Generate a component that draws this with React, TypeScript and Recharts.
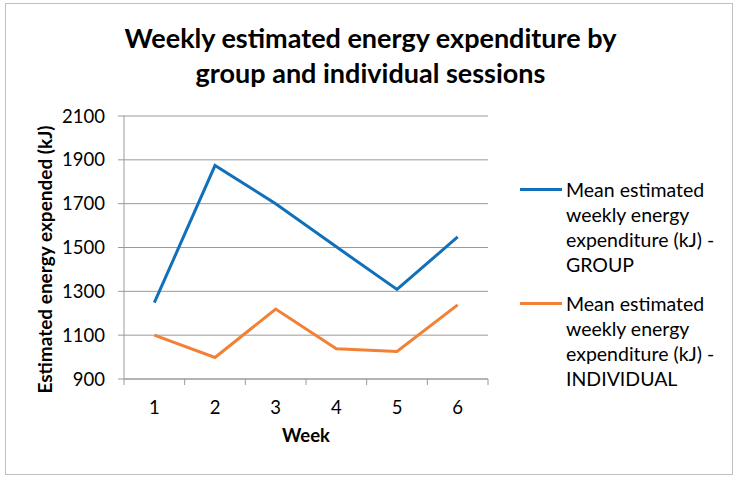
import React from 'react';
import { LineChart, Line, XAxis, YAxis, CartesianGrid, Label } from 'recharts';

const weeks = [1, 2, 3, 4, 5, 6];
const groupValues = [1248, 1874, 1700, 1503, 1309, 1548];
const individualValues = [1100, 998, 1219, 1038, 1026, 1238];
const yTicks = [900, 1100, 1300, 1500, 1700, 1900, 2100];
const xTicks = [0.5, 1, 1.5, 2, 2.5, 3, 3.5, 4, 4.5, 5, 5.5, 6, 6.5];
const seriesNames = [
  'Mean estimated weekly energy expenditure (kJ) - GROUP',
  'Mean estimated weekly energy expenditure (kJ) - INDIVIDUAL',
];
const titleLines = ['Weekly estimated energy expenditure by', 'group and individual sessions'];
const legendLines = [
  ['Mean estimated', 'weekly energy', 'expenditure (kJ) -', 'GROUP'],
  ['Mean estimated', 'weekly energy', 'expenditure (kJ) -', 'INDIVIDUAL'],
];

const BLUE = '#1170BA';
const ORANGE = '#F28035';
const GRID = '#9a9a9a';
const FONT = 'Lato, "Open Sans", sans-serif';

const data = weeks.map((w, i) => ({
  week: w,
  group: groupValues[i],
  individual: individualValues[i],
}));

const XTick = (props: any) => {
  const { x, y, payload } = props;
  const v = payload.value as number;
  if (Number.isInteger(v)) {
    return (
      <text x={x} y={y + 28} textAnchor="middle" dominantBaseline="central" fill="#000" fontSize={18.5} fontFamily={FONT}>
        {v}
      </text>
    );
  }
  return <line x1={x} x2={x} y1={y} y2={y + 6} stroke={GRID} strokeWidth={1} />;
};

export default function App() {
  return (
    <div style={{ position: 'absolute', left: 0, top: 0, width: 741, height: 482, background: '#fff', fontFamily: FONT }}>
      <div
        style={{
          position: 'absolute',
          left: 5,
          top: 3,
          width: 728,
          height: 472,
          border: '1px solid #bfbfbf',
          boxSizing: 'border-box',
        }}
      />
      <div
        style={{
          position: 'absolute',
          left: 0,
          top: 20,
          width: 741,
          textAlign: 'center',
          fontWeight: 700,
          fontSize: 27,
          lineHeight: '35px',
          color: '#000',
        }}
      >
        <div>{titleLines[0]}</div>
        <div>{titleLines[1]}</div>
      </div>
      <div style={{ position: 'absolute', left: 0, top: 0 }}>
        <LineChart width={741} height={482} data={data} margin={{ top: 116, right: 253, bottom: 43, left: 0 }}>
          <CartesianGrid vertical={false} stroke={GRID} strokeWidth={1} />
          <XAxis
            dataKey="week"
            type="number"
            domain={[0.5, 6.5]}
            ticks={xTicks}
            interval={0}
            height={60}
            axisLine={{ stroke: GRID }}
            tickLine={false}
            tickSize={0}
            tickMargin={0}
            tick={<XTick />}
          >
            <Label value="Week" position="insideTop" offset={50} fill="#000" fontSize={18.5} fontWeight={700} fontFamily={FONT} />
          </XAxis>
          <YAxis
            domain={[900, 2100]}
            ticks={yTicks}
            interval={0}
            width={124}
            axisLine={{ stroke: GRID }}
            tickLine={{ stroke: GRID }}
            tickSize={6}
            tickMargin={13}
            tick={{ fill: '#000', fontSize: 18.5, fontFamily: FONT }}
          >
            <Label
              value="Estimated energy expended (kJ)"
              angle={-90}
              position="center"
              dx={-17}
              dy={12}
              fill="#000"
              fontSize={19}
              fontWeight={700}
              fontFamily={FONT}
            />
          </YAxis>
          <Line
            type="linear"
            dataKey="group"
            name={seriesNames[0]}
            stroke={BLUE}
            strokeWidth={3}
            dot={false}
            isAnimationActive={false}
          />
          <Line
            type="linear"
            dataKey="individual"
            name={seriesNames[1]}
            stroke={ORANGE}
            strokeWidth={3}
            dot={false}
            isAnimationActive={false}
          />
        </LineChart>
      </div>
      {legendLines.map((lines, i) => (
        <div
          key={i}
          style={{ position: 'absolute', left: 520, top: 177 + i * 114, display: 'flex', alignItems: 'flex-start' }}
        >
          <svg width={44} height={25} style={{ flex: 'none' }}>
            <line x1={0} x2={42} y1={12.5} y2={12.5} stroke={i === 0 ? BLUE : ORANGE} strokeWidth={3} />
          </svg>
          <div style={{ fontSize: 19.5, lineHeight: '25px', color: '#000', marginLeft: 2, whiteSpace: 'nowrap' }}>
            {lines.map((l, j) => (
              <div key={j}>{l}</div>
            ))}
          </div>
        </div>
      ))}
    </div>
  );
}
